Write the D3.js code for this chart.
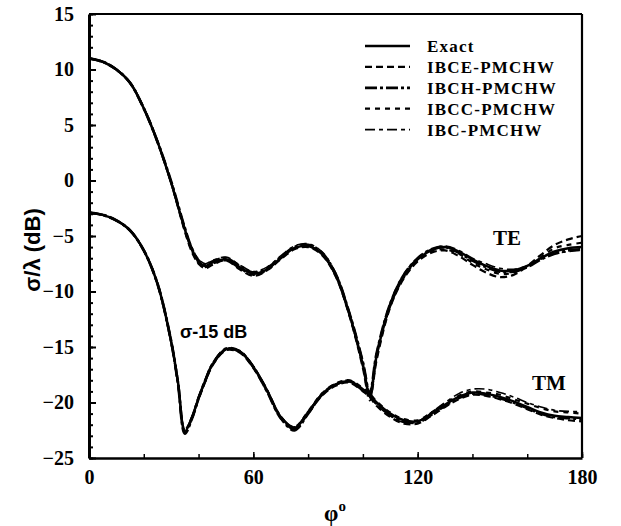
<!DOCTYPE html>
<html><head><meta charset="utf-8">
<script src="https://cdn.jsdelivr.net/npm/d3@7"></script>
<style>
html,body{margin:0;padding:0;background:#fff;}
svg{display:block;}
</style></head>
<body>
<svg id="chart" width="621" height="526"></svg>
<script>
// ---------- data ----------
const phi = [0,5,10,15,20,25,30,32.5,35,37.5,40,42.5,45,50,55,60,65,70,75,80,85,90,95,100,102.5,105,110,115,120,125,130,135,140,145,150,155,160,165,170,175,180];

const teExact = [11.0,10.7,10.0,8.8,6.5,3.5,-0.2,-2.3,-4.4,-6.2,-7.3,-7.7,-7.4,-7.1,-7.8,-8.4,-8.0,-7.0,-6.1,-5.9,-6.6,-8.5,-12.0,-16.6,-19.4,-15.8,-11.2,-8.6,-7.1,-6.3,-6.0,-6.4,-7.1,-7.7,-8.1,-8.1,-7.7,-7.0,-6.4,-6.1,-6.0];
const teIBCE  = [11.0,10.7,10.0,8.8,6.5,3.5,-0.2,-2.4,-4.6,-6.4,-7.5,-7.9,-7.6,-7.2,-8.0,-8.6,-8.1,-7.1,-6.2,-6.0,-6.7,-8.6,-12.1,-16.9,-19.8,-16.2,-11.4,-8.8,-7.3,-6.5,-6.3,-6.8,-7.6,-8.3,-8.7,-8.5,-7.7,-6.7,-5.8,-5.3,-5.0];
const teIBCH  = [11.0,10.7,10.0,8.8,6.5,3.5,-0.1,-2.2,-4.3,-6.1,-7.2,-7.6,-7.3,-7.0,-7.7,-8.3,-7.9,-6.9,-6.0,-5.8,-6.5,-8.4,-11.9,-16.4,-19.2,-15.6,-11.1,-8.5,-7.0,-6.2,-6.0,-6.5,-7.2,-7.8,-8.2,-8.2,-7.8,-7.1,-6.6,-6.3,-6.2];
const teIBCC  = [11.0,10.7,10.0,8.8,6.5,3.5,-0.2,-2.3,-4.5,-6.3,-7.4,-7.8,-7.5,-7.2,-7.9,-8.5,-8.1,-7.0,-6.1,-5.9,-6.6,-8.5,-12.0,-16.7,-19.6,-16.0,-11.3,-8.7,-7.2,-6.4,-6.2,-6.6,-7.4,-8.0,-8.4,-8.3,-7.7,-6.9,-6.1,-5.8,-5.6];
const teIBC   = [11.0,10.7,10.0,8.8,6.5,3.5,-0.1,-2.2,-4.3,-6.0,-7.1,-7.5,-7.2,-6.9,-7.6,-8.2,-7.8,-6.8,-5.9,-5.7,-6.4,-8.3,-11.8,-16.3,-19.0,-15.5,-11.0,-8.4,-7.0,-6.2,-5.9,-6.3,-7.0,-7.5,-7.9,-8.0,-7.7,-7.1,-6.6,-6.4,-6.3];

const tmExact = [-2.9,-3.1,-3.6,-4.5,-6.3,-9.3,-14.5,-18.2,-22.6,-21.4,-19.6,-18.0,-16.6,-15.2,-15.4,-16.8,-18.9,-21.3,-22.3,-20.9,-19.3,-18.4,-18.1,-18.8,-19.3,-20.0,-21.0,-21.6,-21.7,-21.0,-20.2,-19.5,-19.1,-19.2,-19.5,-19.9,-20.4,-20.9,-21.2,-21.3,-21.4];
const tmIBCE  = [-2.9,-3.1,-3.6,-4.5,-6.3,-9.3,-14.6,-18.3,-22.7,-21.5,-19.7,-18.1,-16.7,-15.3,-15.5,-16.9,-19.0,-21.4,-22.4,-21.0,-19.4,-18.5,-18.2,-19.0,-19.5,-20.3,-21.3,-21.9,-21.9,-21.2,-20.4,-19.7,-19.3,-19.4,-19.7,-20.1,-20.6,-21.1,-21.4,-21.6,-21.7];
const tmIBCH  = [-2.9,-3.1,-3.6,-4.5,-6.3,-9.3,-14.5,-18.3,-22.8,-21.5,-19.6,-18.0,-16.6,-15.2,-15.4,-16.8,-19.0,-21.4,-22.5,-21.0,-19.3,-18.4,-18.1,-18.9,-19.4,-20.1,-21.1,-21.7,-21.8,-21.1,-20.3,-19.6,-19.2,-19.3,-19.6,-20.0,-20.5,-21.0,-21.3,-21.4,-21.5];
const tmIBCC  = [-2.9,-3.1,-3.6,-4.5,-6.3,-9.3,-14.5,-18.2,-22.5,-21.4,-19.6,-18.0,-16.6,-15.2,-15.4,-16.8,-18.9,-21.3,-22.2,-20.8,-19.2,-18.3,-18.0,-18.7,-19.2,-19.9,-20.9,-21.5,-21.6,-20.9,-20.1,-19.4,-19.0,-19.1,-19.3,-19.7,-20.1,-20.5,-20.8,-20.9,-21.0];
const tmIBC   = [-2.9,-3.1,-3.6,-4.5,-6.3,-9.3,-14.4,-18.1,-22.4,-21.3,-19.5,-17.9,-16.5,-15.1,-15.3,-16.7,-18.8,-21.2,-22.2,-20.8,-19.2,-18.3,-18.0,-18.8,-19.4,-20.2,-21.2,-21.8,-21.7,-20.9,-20.0,-19.2,-18.8,-18.8,-19.1,-19.5,-20.0,-20.4,-20.7,-20.8,-20.8];

const seriesNames = ["Exact","IBCE-PMCHW","IBCH-PMCHW","IBCC-PMCHW","IBC-PMCHW"];
const yTickLabels = [-25,-20,-15,-10,-5,0,5,10,15];
const xTickLabels = [0,60,120,180];

// ---------- styles ----------
const styles = {
  "Exact":      {dash:null,          w:2.5},
  "IBCE-PMCHW": {dash:"7,4",         w:2.2},
  "IBCH-PMCHW": {dash:"12,3,3,3",    w:2.8},
  "IBCC-PMCHW": {dash:"5,5",         w:2.2},
  "IBC-PMCHW":  {dash:"10,4,4,4",    w:1.6}
};

const svg = d3.select("#chart");
const x = d3.scaleLinear().domain([0,180]).range([89,582]);
const y = d3.scaleLinear().domain([-25,15]).range([458,14]);

const serif = "'Liberation Serif','Times New Roman',serif";
const sans = "'Liberation Sans',Arial,sans-serif";

// ---------- curves ----------
const line = d3.line().x(d=>x(d[0])).y(d=>y(d[1])).curve(d3.curveCatmullRom.alpha(0.5));
const teSets = [teExact,teIBCE,teIBCH,teIBCC,teIBC];
const tmSets = [tmExact,tmIBCE,tmIBCH,tmIBCC,tmIBC];
const curveG = svg.append("g");
[4,3,2,1,0].forEach(i=>{
  const name = seriesNames[i], st = styles[name];
  [teSets[i], tmSets[i]].forEach(vals=>{
    curveG.append("path")
      .datum(phi.map((p,k)=>[p,vals[k]]))
      .attr("d",line).attr("fill","none").attr("stroke","#000")
      .attr("stroke-width",st.w)
      .attr("stroke-dasharray",st.dash)
      .attr("stroke-linejoin","round");
  });
});

// ---------- axes ----------
const yMinor = svg.append("g").attr("transform","translate(89,0)")
  .call(d3.axisLeft(y).tickValues(d3.range(-25,16,1)).tickSizeInner(-4).tickSizeOuter(0).tickFormat(""));
yMinor.select(".domain").remove();
yMinor.selectAll("line").attr("stroke-width",2);

const yAxis = svg.append("g").attr("transform","translate(89,0)")
  .call(d3.axisLeft(y).tickValues(yTickLabels).tickSizeInner(-7).tickSizeOuter(0).tickPadding(15));
yAxis.select(".domain").attr("stroke-width",3);
yAxis.selectAll("line").attr("stroke-width",2);
yAxis.selectAll("text").attr("font-family",serif).attr("font-weight","bold").attr("font-size",20).attr("fill","#000");

const xMinor = svg.append("g").attr("transform","translate(0,458)")
  .call(d3.axisBottom(x).tickValues(d3.range(0,181,20)).tickSizeInner(-4).tickSizeOuter(0).tickFormat(""));
xMinor.select(".domain").remove();
xMinor.selectAll("line").attr("stroke-width",1.5);

const xAxis = svg.append("g").attr("transform","translate(0,458)")
  .call(d3.axisBottom(x).tickValues(xTickLabels).tickSizeInner(-6).tickSizeOuter(0).tickPadding(12));
xAxis.select(".domain").attr("stroke-width",2.5);
xAxis.selectAll("line").attr("stroke-width",1.5);
xAxis.selectAll("text").attr("font-family",serif).attr("font-weight","bold").attr("font-size",20).attr("fill","#000");

// top & right borders
svg.append("line").attr("x1",89).attr("x2",582).attr("y1",14).attr("y2",14).attr("stroke","#000").attr("stroke-width",2.2);
svg.append("line").attr("x1",582).attr("x2",582).attr("y1",14).attr("y2",458).attr("stroke","#000").attr("stroke-width",2.2);

// ---------- axis titles ----------
svg.append("text").attr("transform","translate(40,250) rotate(-90)")
  .attr("text-anchor","middle").attr("font-family",sans).attr("font-weight","bold")
  .attr("font-size",22).text("σ/λ (dB)");

const xt = svg.append("text").attr("x",335).attr("y",521).attr("text-anchor","middle")
  .attr("font-family",serif).attr("font-weight","bold").attr("font-size",23);
xt.append("tspan").text("φ");
xt.append("tspan").attr("font-size",15).attr("dy",-10).text("o");

// ---------- annotations ----------
svg.append("text").attr("x",507).attr("y",245).attr("text-anchor","middle")
  .attr("font-family",serif).attr("font-weight","bold").attr("font-size",21).text("TE");
svg.append("text").attr("x",549).attr("y",390).attr("text-anchor","middle")
  .attr("font-family",serif).attr("font-weight","bold").attr("font-size",21).text("TM");
svg.append("text").attr("x",180).attr("y",338)
  .attr("font-family",sans).attr("font-weight","bold").attr("font-size",18).text("σ-15 dB");

// ---------- legend ----------
const lg = svg.append("g");
seriesNames.forEach((name,i)=>{
  const cy = 46 + i*20.9, st = styles[name];
  lg.append("line").attr("x1",365).attr("x2",410).attr("y1",cy).attr("y2",cy)
    .attr("stroke","#000").attr("stroke-width",st.w).attr("stroke-dasharray",st.dash);
  lg.append("text").attr("x",427).attr("y",cy+6)
    .attr("font-family",serif).attr("font-weight","bold").attr("font-size",17)
    .attr("letter-spacing",1.2).text(name);
});
</script>
</body></html>
